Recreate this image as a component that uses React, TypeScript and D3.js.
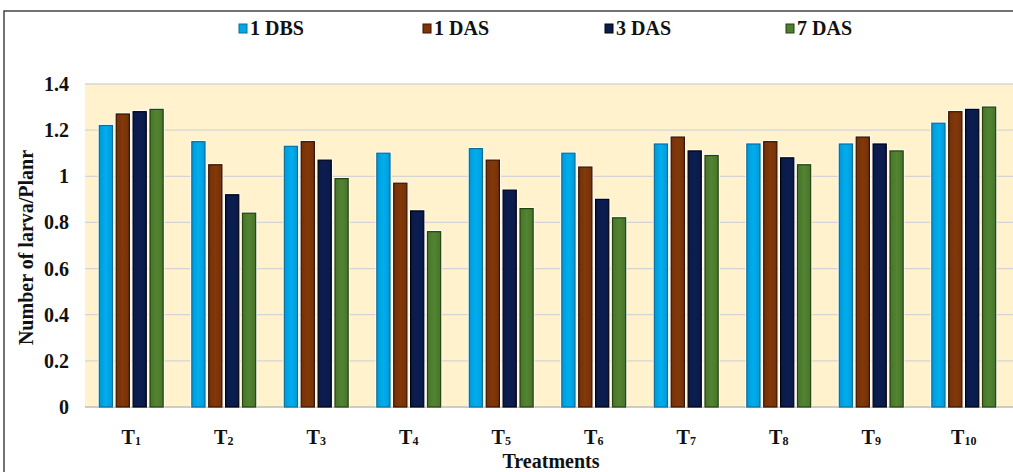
import React from "react";
import * as d3 from "d3";

const categories = ["1", "2", "3", "4", "5", "6", "7", "8", "9", "10"];
const seriesNames = ["1 DBS", "1 DAS", "3 DAS", "7 DAS"];
const dbs1 = [1.22, 1.15, 1.13, 1.1, 1.12, 1.1, 1.14, 1.14, 1.14, 1.23];
const das1 = [1.27, 1.05, 1.15, 0.97, 1.07, 1.04, 1.17, 1.15, 1.17, 1.28];
const das3 = [1.28, 0.92, 1.07, 0.85, 0.94, 0.9, 1.11, 1.08, 1.14, 1.29];
const das7 = [1.29, 0.84, 0.99, 0.76, 0.86, 0.82, 1.09, 1.05, 1.11, 1.3];
const yTicks = [0, 0.2, 0.4, 0.6, 0.8, 1, 1.2, 1.4];

const seriesValues = [dbs1, das1, das3, das7];
const fills = ["#00a8e8", "#7e3609", "#0b1c4e", "#4f7f2f"];
const edges = ["#0a6e9c", "#3a1200", "#000010", "#24420f"];

const W = 1013;
const H = 472;
const left = 85;
const right = 1010;
const top = 84;
const bottom = 407;
const font = "Liberation Serif, Times New Roman, DejaVu Serif, serif";
const txt: React.CSSProperties = { fontFamily: font, fontWeight: 700 };

export default function App() {
  const x0 = d3
    .scaleBand<string>()
    .domain(categories)
    .range([left, right])
    .paddingInner(0.31)
    .paddingOuter(0.155);
  const x1 = d3
    .scaleBand<string>()
    .domain(seriesNames)
    .range([0, x0.bandwidth()])
    .paddingInner(0.22);
  const y = d3.scaleLinear().domain([0, 1.4]).range([bottom, top]);

  const legendX = [243, 427, 609, 790];

  return (
    <svg
      width={W}
      height={H}
      style={{ position: "absolute", left: 0, top: 0, background: "#fff", fontFamily: font }}
    >
      <defs>
        {fills.map((c, i) => (
          <linearGradient key={i} id={`g${i}`} x1="0" x2="1" y1="0" y2="0">
            <stop offset="0" stopColor={d3.color(c)!.darker(0.25).toString()} />
            <stop offset="0.5" stopColor={d3.color(c)!.brighter(0.1).toString()} />
            <stop offset="1" stopColor={d3.color(c)!.darker(0.25).toString()} />
          </linearGradient>
        ))}
      </defs>
      {/* outer frame */}
      <rect x={4} y={11} width={W + 20} height={H + 20} fill="none" stroke="#444" strokeWidth={1.5} />
      {/* plot background */}
      <rect x={left} y={top} width={right - left + 10} height={bottom - top} fill="#fff2cc" />
      {/* gridlines */}
      {yTicks.map((t) => (
        <line
          key={t}
          x1={left}
          x2={right + 10}
          y1={y(t)}
          y2={y(t)}
          stroke={t === 0 ? "#bdbdbd" : "#d4d4d4"}
          strokeWidth={1.3}
        />
      ))}
      {/* bars */}
      {categories.map((c, ci) => (
        <g key={c} transform={`translate(${x0(c)},0)`}>
          {seriesNames.map((s, si) => {
            const v = seriesValues[si][ci];
            const bx = x1(s)!;
            const bw = x1.bandwidth();
            return (
              <g key={s}>
                <rect
                  x={bx - 1.5}
                  y={y(v) - 1.5}
                  width={bw + 3}
                  height={y(0) - y(v) + 1.5}
                  fill="#ffffff"
                  opacity={0.9}
                />
                <rect
                  x={bx}
                  y={y(v)}
                  width={bw}
                  height={y(0) - y(v)}
                  fill={`url(#g${si})`}
                  stroke={edges[si]}
                  strokeWidth={1.2}
                />
              </g>
            );
          })}
        </g>
      ))}
      {/* y tick labels */}
      {yTicks.map((t) => (
        <text
          key={t}
          x={69}
          y={y(t)}
          dy="0.35em"
          textAnchor="end"
          fontSize={20}
          fill="#111"
          style={txt}
        >
          {d3.format("~g")(t)}
        </text>
      ))}
      {/* x tick labels */}
      {categories.map((c) => (
        <text
          key={c}
          x={x0(c)! + x0.bandwidth() / 2}
          y={444}
          textAnchor="middle"
          fontSize={20}
          fill="#111"
          style={txt}
        >
          T
          <tspan fontSize={12} dy={1}>
            {c}
          </tspan>
        </text>
      ))}
      {/* axis titles */}
      <text x={551} y={468} textAnchor="middle" fontSize={20} fill="#111" style={txt}>
        Treatments
      </text>
      <text
        transform={`translate(33,${(top + bottom) / 2 + 2}) rotate(-90)`}
        textAnchor="middle"
        fontSize={20}
        fill="#111"
        style={txt}
      >
        Number of larva/Planr
      </text>
      {/* legend */}
      {seriesNames.map((s, i) => (
        <g key={s} transform={`translate(${legendX[i]},28)`}>
          <rect x={-4} y={-4} width={8} height={9} fill={fills[i]} stroke={edges[i]} strokeWidth={1} />
          <text x={7} y={0} dy="0.35em" fontSize={20} fill="#111" style={txt}>
            {s}
          </text>
        </g>
      ))}
    </svg>
  );
}
